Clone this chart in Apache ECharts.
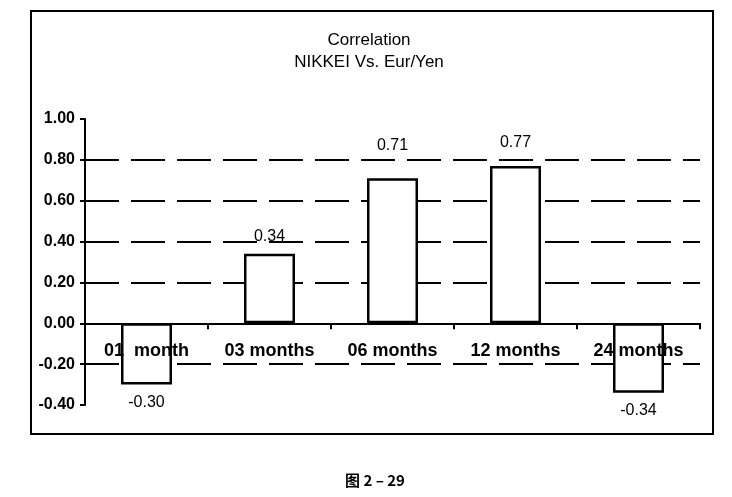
<!DOCTYPE html>
<html>
<head>
<meta charset="utf-8">
<script src="https://cdn.jsdelivr.net/npm/echarts@6/dist/echarts.min.js"></script>
<style>
  html, body { margin: 0; padding: 0; background: #fff; }
  #chart { width: 732px; height: 497px; }
</style>
</head>
<body>
<div id="chart"></div>
<script>
var categories = ['01  month', '03 months', '06 months', '12 months', '24 months'];
var correlation = [-0.30, 0.34, 0.71, 0.77, -0.34];
var titleLines = ['Correlation', 'NIKKEI Vs. Eur/Yen'];
var caption = '图 2 – 29';
// label gap above/below each bar, as in the scan
var labelGap = [10, 9, 25, 15, 10];

var dom = document.getElementById('chart');
var myChart = echarts.init(dom);

var barData = correlation.map(function (v, i) {
    return { value: v, label: { distance: labelGap[i] } };
});

var option = {
    backgroundColor: '#fff',
    animation: false,
    title: [{
        text: titleLines.join('\n'),
        left: 364,
        textAlign: 'center',
        top: 24,
        textStyle: {
            fontFamily: 'Liberation Sans',
            fontSize: 17,
            fontWeight: 'normal',
            color: '#000',
            lineHeight: 22
        }
    }, {
        text: caption,
        left: 370,
        textAlign: 'center',
        top: 468,
        textStyle: {
            fontFamily: 'Noto Sans CJK SC',
            fontSize: 15,
            fontWeight: 'bold',
            color: '#000'
        }
    }],
    graphic: [{
        type: 'rect',
        shape: { x: 31, y: 11, width: 682, height: 423 },
        style: { fill: 'none', stroke: '#000', lineWidth: 2 },
        z: -1
    }],
    grid: {
        left: 85,
        right: 32,
        top: 119,
        bottom: 92
    },
    xAxis: {
        type: 'category',
        data: categories,
        z: 10,
        axisLine: {
            onZero: false,
            lineStyle: { color: '#000', width: 2 }
        },
        axisTick: {
            show: true,
            length: 6,
            lineStyle: { color: '#000', width: 2 }
        },
        axisLabel: {
            margin: 19,
            color: '#000',
            fontFamily: 'Liberation Sans',
            fontSize: 18,
            fontWeight: 'bold',
            interval: 0
        }
    },
    yAxis: {
        type: 'value',
        min: -0.4,
        max: 1.0,
        interval: 0.2,
        axisLine: {
            show: true,
            lineStyle: { color: '#000', width: 2 }
        },
        axisTick: {
            show: true,
            length: 5,
            lineStyle: { color: '#000', width: 2 }
        },
        axisLabel: {
            margin: 10,
            color: '#000',
            fontFamily: 'Liberation Sans',
            fontSize: 16,
            fontWeight: 'bold',
            formatter: function (v) { return v.toFixed(2); }
        },
        splitLine: {
            show: true,
            showMinLine: false,
            showMaxLine: false,
            lineStyle: { color: '#000', width: 2, type: [34, 12] }
        }
    },
    series: [{
        type: 'bar',
        data: barData,
        barWidth: 51,
        itemStyle: {
            color: '#fff',
            borderColor: '#000',
            borderWidth: 2.5
        },
        label: {
            show: true,
            position: 'outside',
            color: '#000',
            fontFamily: 'Liberation Sans',
            fontSize: 16,
            formatter: function (p) { return p.value.toFixed(2); }
        }
    }]
};
myChart.setOption(option, true);

// move the category axis (with its labels) up to the zero line
var zeroY = myChart.convertToPixel({ yAxisIndex: 0 }, 0);
var minY = myChart.convertToPixel({ yAxisIndex: 0 }, -0.4);
myChart.setOption({ xAxis: { offset: zeroY - minY } });

window.onresize = function () {
    myChart.resize();
};
</script>
</body>
</html>
